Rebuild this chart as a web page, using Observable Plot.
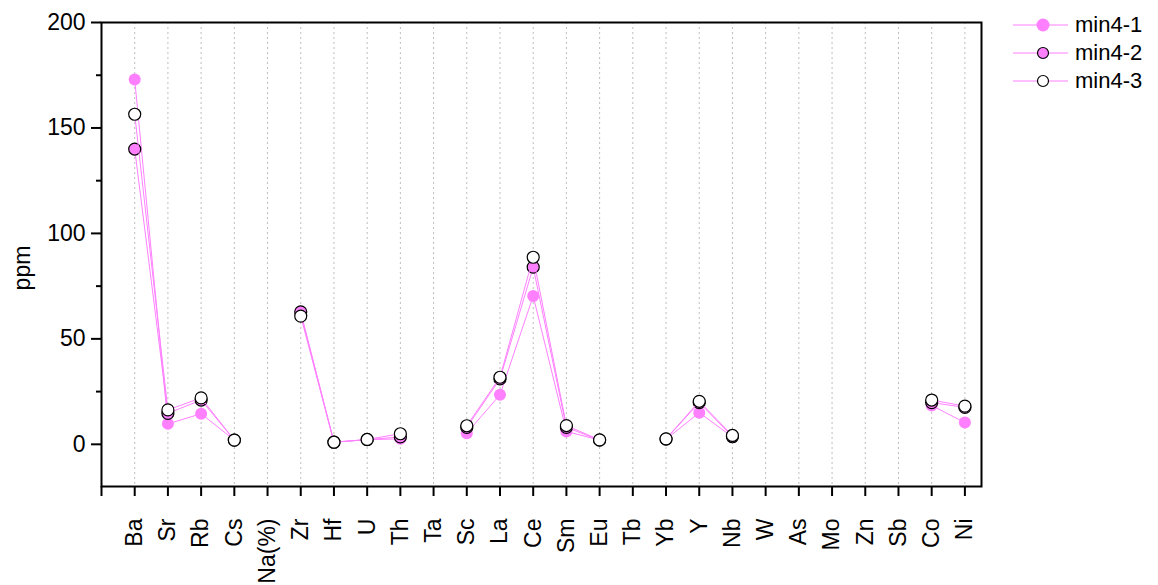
<!DOCTYPE html>
<html>
<head>
<meta charset="utf-8">
<script src="https://cdn.jsdelivr.net/npm/d3@7"></script>
<script src="https://cdn.jsdelivr.net/npm/@observablehq/plot@0.6"></script>
<style>
  html, body { margin: 0; padding: 0; background: #fff; }
  #wrap { position: relative; width: 1158px; height: 585px; font-family: "Liberation Sans", Arial, sans-serif; }
  #legend { position: absolute; left: 1010px; top: 11px; }
  .row { display: flex; align-items: center; height: 28px; font-size: 22px; color: #000; }
  .row svg { margin-right: 5px; }
  #wrap svg text { font-size: 23px; }
  #ylab { position: absolute; left: 22px; top: 268px; transform: translate(-50%, -50%) rotate(-90deg); font-size: 23px; color: #000; white-space: nowrap; }
</style>
</head>
<body>
<div id="wrap"></div>
<script>
const elements = ["Ba","Sr","Rb","Cs","Na(%)","Zr","Hf","U","Th","Ta","Sc","La","Ce","Sm","Eu","Tb","Yb","Y","Nb","W","As","Mo","Zn","Sb","Co","Ni"];
const min4_1 = [173, 9.7, 14.5, 2.0, null, 62, 1.0, 2.2, 2.6, null, 5.3, 23.5, 70.3, 6.1, 2.0, null, 2.4, 15.0, 3.5, null, null, null, null, null, 18.4, 10.3];
const min4_2 = [140, 14.7, 21.0, 2.0, null, 62.8, 1.0, 2.2, 3.5, null, 8.0, 31.0, 84.0, 8.0, 2.0, null, 2.5, 19.8, 3.6, null, null, null, null, null, 19.8, 17.5];
const min4_3 = [156.5, 16.3, 22.0, 2.0, null, 60.8, 1.0, 2.3, 5.0, null, 8.8, 31.8, 88.7, 8.9, 2.1, null, 2.6, 20.4, 4.2, null, null, null, null, null, 21.0, 18.1];
const seriesNames = ["min4-1", "min4-2", "min4-3"];
const yMajor = [0, 50, 100, 150, 200];
const yMinor = [25, 75, 125, 175];
const yLabel = "ppm";

const pink = "#ff80ff";
const styles = {
  "min4-1": {fill: pink, stroke: "none"},
  "min4-2": {fill: pink, stroke: "#000"},
  "min4-3": {fill: "#fff", stroke: "#000"}
};

const seriesValues = [min4_1, min4_2, min4_3];
const rows = [];
seriesNames.forEach((s, k) => {
  elements.forEach((e, i) => rows.push({series: s, i, el: e, v: seriesValues[k][i] == null ? NaN : seriesValues[k][i]}));
});

const marks = [
  Plot.gridX(d3.range(0, 26), {stroke: "#bdbdbd", strokeOpacity: 1, strokeDasharray: "2,3", strokeWidth: 1}),
];
for (const s of seriesNames) {
  const d = rows.filter(r => r.series === s);
  marks.push(Plot.line(d, {x: "i", y: "v", stroke: pink, strokeWidth: 1}));
  marks.push(Plot.dot(d.filter(r => !isNaN(r.v)), {x: "i", y: "v", r: 6, fill: styles[s].fill, stroke: styles[s].stroke, strokeWidth: 1.2}));
}
marks.push(
  Plot.axisX({ticks: d3.range(-1, 26), tickFormat: i => elements[i] ?? "", tickRotate: -90, tickSize: 10, tickPadding: 22, strokeWidth: 2, label: null}),
  Plot.axisY({ticks: yMajor, tickSize: 10, tickPadding: 6, strokeWidth: 2, label: null}),
  Plot.axisY({ticks: yMinor, tickSize: 5, strokeWidth: 2, tickFormat: () => "", label: null}),
  Plot.frame({stroke: "#000", strokeWidth: 2})
);

const chart = Plot.plot({
  width: 1158,
  height: 585,
  marginLeft: 101,
  marginRight: 177,
  marginTop: 22,
  marginBottom: 99,
  style: {fontFamily: "'Liberation Sans', Arial, sans-serif", fontSize: "23px", color: "#000", background: "#fff"},
  x: {type: "linear", domain: [-1, 25.5]},
  y: {domain: [-20, 200]},
  marks
});
const wrap = document.getElementById("wrap");
wrap.appendChild(chart);

const yl = document.createElement("div");
yl.id = "ylab";
yl.textContent = yLabel;
wrap.appendChild(yl);

const legend = document.createElement("div");
legend.id = "legend";
for (const s of seriesNames) {
  const row = document.createElement("div");
  row.className = "row";
  row.innerHTML = `<svg width="60" height="20"><line x1="3" x2="58" y1="10" y2="10" stroke="${pink}" stroke-width="1"/><circle cx="33" cy="10" r="${s === "min4-1" ? 6.5 : 5.5}" fill="${styles[s].fill}" stroke="${styles[s].stroke}" stroke-width="1.2"/></svg><span>${s}</span>`;
  legend.appendChild(row);
}
wrap.appendChild(legend);
</script>
</body>
</html>
